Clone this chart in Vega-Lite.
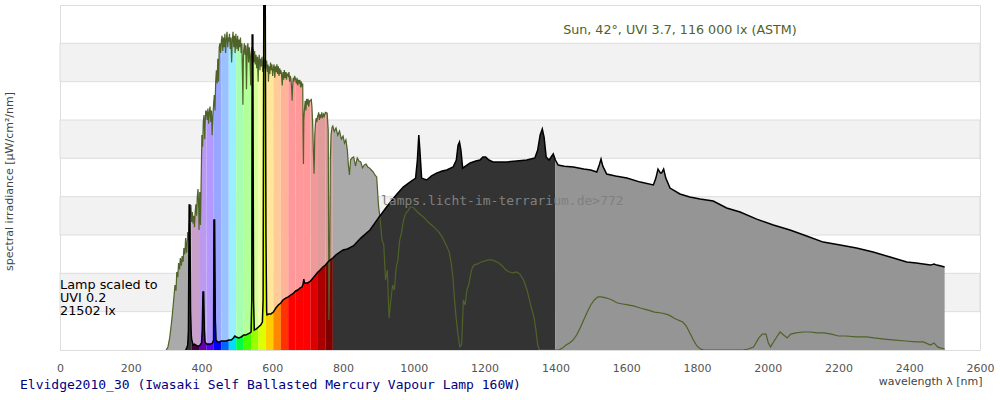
{
  "$schema": "https://vega.github.io/schema/vega-lite/v6.json",
  "width": 920,
  "height": 345,
  "autosize": {"type": "none"},
  "padding": {"left": 60, "top": 5, "right": 20, "bottom": 50},
  "background": "white",
  "config": {
    "view": {"stroke": "#dddddd"},
    "font": "DejaVu Sans",
    "axisX": {"tickCount": 13, "labelFlush": false, "ticks": false, "domain": false, "grid": false, "labelColor": "#555555", "labelFont": "DejaVu Sans", "labelFontSize": 11, "labelPadding": 12, "titleAnchor": "end", "titleAlign": "right", "titleBaseline": "middle", "titleX": 922, "titleY": 31, "titleColor": "#444444", "titleFont": "DejaVu Sans", "titleFontSize": 11, "titleFontWeight": "normal"},
    "axisY": {"labels": false, "ticks": false, "domain": false, "grid": false, "titleAngle": -90, "titleAlign": "center", "titleBaseline": "middle", "titleX": -51, "titleY": 176, "titleColor": "#444444", "titleFont": "DejaVu Sans", "titleFontSize": 11, "titleFontWeight": "normal"}
  },
  "title": {"text": "Elvidge2010_30 (Iwasaki Self Ballasted Mercury Vapour Lamp 160W)", "orient": "bottom", "anchor": "start", "frame": "group", "font": "DejaVu Sans Mono", "fontSize": 13, "fontWeight": "normal", "color": "#000080", "dx": -40, "offset": 0, "dy": -7},
  "datasets": {
    "stripes": [{"lo": 20, "hi": 40}, {"lo": 60, "hi": 80}, {"lo": 100, "hi": 120}, {"lo": 140, "hi": 160}],
    "sun": [
      {"w":300,"v":0,"b":"uv"},{"w":305,"v":1.6,"b":"uv"},{"w":310,"v":6.3,"b":"uv"},{"w":315,"v":14.1,"b":"uv"},{"w":320,"v":23.5,"b":"uv"},{"w":325,"v":33.9,"b":"uv"},{"w":328,"v":31,"b":"uv"},{"w":330,"v":40.7,"b":"uv"},{"w":333,"v":38,"b":"uv"},{"w":335,"v":45.4,"b":"uv"},{"w":338,"v":42,"b":"uv"},{"w":340,"v":48.0,"b":"uv"},{"w":343,"v":44,"b":"uv"},{"w":345,"v":49.0,"b":"uv"},{"w":348,"v":46,"b":"uv"},{"w":350,"v":53.2,"b":"uv"},{"w":353,"v":50,"b":"uv"},{"w":355,"v":58.4,"b":"uv"},{"w":358,"v":50.8,"b":"uv"},{"w":361,"v":61.6,"b":"uv"},{"w":363,"v":57,"b":"uv"},{"w":365,"v":65.2,"b":"uv"},{"w":368,"v":72.0,"b":"uv"},{"w":370,"v":75.6,"b":"uv"},{"w":372,"v":66.8,"b":"uv"},
      {"w":372,"v":66.8,"b":"b01"},{"w":374,"v":72,"b":"b01"},{"w":376,"v":66,"b":"b01"},{"w":378,"v":70,"b":"b01"},{"w":380,"v":64,"b":"b01"},{"w":382,"v":72,"b":"b01"},{"w":384,"v":76,"b":"b01"},{"w":386,"v":70,"b":"b01"},{"w":388,"v":80,"b":"b01"},{"w":390,"v":84,"b":"b01"},{"w":392,"v":74,"b":"b01"},{"w":393,"v":62.6,"b":"b01"},
      {"w":393,"v":62.6,"b":"b02"},{"w":395,"v":82.4,"b":"b02"},{"w":397,"v":65.2,"b":"b02"},{"w":399,"v":88.7,"b":"b02"},{"w":401,"v":112.2,"b":"b02"},{"w":403,"v":106,"b":"b02"},{"w":405,"v":119,"b":"b02"},{"w":407,"v":122.6,"b":"b02"},{"w":409,"v":110,"b":"b02"},{"w":410,"v":117.4,"b":"b02"},{"w":412,"v":125,"b":"b02"},{"w":414,"v":124.2,"b":"b02"},
      {"w":414,"v":124.2,"b":"b03"},{"w":416,"v":120,"b":"b03"},{"w":418,"v":126,"b":"b03"},{"w":420,"v":118,"b":"b03"},{"w":422,"v":124,"b":"b03"},{"w":424,"v":127,"b":"b03"},{"w":426,"v":119,"b":"b03"},{"w":428,"v":125,"b":"b03"},{"w":430,"v":112,"b":"b03"},{"w":432,"v":122,"b":"b03"},{"w":434,"v":128,"b":"b03"},
      {"w":434,"v":128,"b":"b04"},{"w":436,"v":133,"b":"b04"},{"w":438,"v":125,"b":"b04"},{"w":440,"v":140,"b":"b04"},{"w":442,"v":146,"b":"b04"},{"w":444,"v":139,"b":"b04"},{"w":446,"v":152,"b":"b04"},{"w":448,"v":140,"b":"b04"},{"w":450,"v":158,"b":"b04"},{"w":452,"v":160,"b":"b04"},{"w":454,"v":155,"b":"b04"},{"w":456,"v":161,"b":"b04"},
      {"w":456,"v":161,"b":"b05"},{"w":458,"v":164,"b":"b05"},{"w":460,"v":156,"b":"b05"},{"w":462,"v":163,"b":"b05"},{"w":464,"v":158,"b":"b05"},{"w":466,"v":165,"b":"b05"},{"w":468,"v":155,"b":"b05"},{"w":470,"v":162,"b":"b05"},{"w":472,"v":166,"b":"b05"},{"w":474,"v":158,"b":"b05"},{"w":476,"v":163,"b":"b05"},{"w":477,"v":161,"b":"b05"},
      {"w":477,"v":161,"b":"b06"},{"w":479,"v":165,"b":"b06"},{"w":481,"v":157,"b":"b06"},{"w":483,"v":163,"b":"b06"},{"w":485,"v":150,"b":"b06"},{"w":487,"v":162,"b":"b06"},{"w":489,"v":166,"b":"b06"},{"w":491,"v":158,"b":"b06"},{"w":493,"v":164,"b":"b06"},{"w":495,"v":155,"b":"b06"},{"w":497,"v":165,"b":"b06"},{"w":498,"v":162,"b":"b06"},
      {"w":498,"v":162,"b":"b07"},{"w":500,"v":157,"b":"b07"},{"w":502,"v":164,"b":"b07"},{"w":504,"v":156,"b":"b07"},{"w":506,"v":162,"b":"b07"},{"w":508,"v":158,"b":"b07"},{"w":510,"v":163,"b":"b07"},{"w":512,"v":155,"b":"b07"},{"w":514,"v":160,"b":"b07"},{"w":516,"v":140,"b":"b07"},{"w":517,"v":128,"b":"b07"},{"w":518,"v":150,"b":"b07"},{"w":519,"v":156,"b":"b07"},
      {"w":519,"v":156,"b":"b08"},{"w":521,"v":160,"b":"b08"},{"w":523,"v":154,"b":"b08"},{"w":525,"v":159,"b":"b08"},{"w":527,"v":136,"b":"b08"},{"w":529,"v":157,"b":"b08"},{"w":531,"v":160,"b":"b08"},{"w":533,"v":150,"b":"b08"},{"w":535,"v":158,"b":"b08"},{"w":537,"v":152,"b":"b08"},{"w":539,"v":138,"b":"b08"},{"w":540,"v":154,"b":"b08"},
      {"w":540,"v":154,"b":"b09"},{"w":542,"v":158,"b":"b09"},{"w":544,"v":151,"b":"b09"},{"w":546,"v":157,"b":"b09"},{"w":548,"v":150,"b":"b09"},{"w":550,"v":156,"b":"b09"},{"w":552,"v":149,"b":"b09"},{"w":554,"v":154,"b":"b09"},{"w":556,"v":147,"b":"b09"},{"w":558,"v":153,"b":"b09"},{"w":560,"v":140,"b":"b09"},{"w":561,"v":150,"b":"b09"},
      {"w":561,"v":150,"b":"b10"},{"w":563,"v":154,"b":"b10"},{"w":565,"v":146,"b":"b10"},{"w":567,"v":152,"b":"b10"},{"w":569,"v":148,"b":"b10"},{"w":571,"v":153,"b":"b10"},{"w":573,"v":145,"b":"b10"},{"w":575,"v":151,"b":"b10"},{"w":577,"v":147,"b":"b10"},{"w":579,"v":152,"b":"b10"},{"w":581,"v":146,"b":"b10"},{"w":582,"v":149,"b":"b10"},
      {"w":582,"v":149,"b":"b11"},{"w":584,"v":151,"b":"b11"},{"w":586,"v":145,"b":"b11"},{"w":588,"v":149,"b":"b11"},{"w":589,"v":140,"b":"b11"},{"w":591,"v":148,"b":"b11"},{"w":593,"v":144,"b":"b11"},{"w":595,"v":150,"b":"b11"},{"w":597,"v":146,"b":"b11"},{"w":599,"v":149,"b":"b11"},{"w":601,"v":143,"b":"b11"},{"w":603,"v":147,"b":"b11"},
      {"w":603,"v":147,"b":"b12"},{"w":605,"v":149,"b":"b12"},{"w":607,"v":142,"b":"b12"},{"w":609,"v":148,"b":"b12"},{"w":611,"v":145,"b":"b12"},{"w":613,"v":149,"b":"b12"},{"w":615,"v":144,"b":"b12"},{"w":617,"v":148,"b":"b12"},{"w":619,"v":143,"b":"b12"},{"w":621,"v":147,"b":"b12"},{"w":623,"v":144,"b":"b12"},{"w":624,"v":146,"b":"b12"},
      {"w":624,"v":146,"b":"b13"},{"w":626,"v":144,"b":"b13"},{"w":628,"v":138,"b":"b13"},{"w":630,"v":145,"b":"b13"},{"w":632,"v":141,"b":"b13"},{"w":634,"v":146,"b":"b13"},{"w":636,"v":142,"b":"b13"},{"w":638,"v":145,"b":"b13"},{"w":640,"v":141,"b":"b13"},{"w":642,"v":144,"b":"b13"},{"w":645,"v":143,"b":"b13"},
      {"w":645,"v":143,"b":"b14"},{"w":647,"v":145,"b":"b14"},{"w":649,"v":140,"b":"b14"},{"w":651,"v":143,"b":"b14"},{"w":653,"v":141,"b":"b14"},{"w":655,"v":135,"b":"b14"},{"w":656,"v":130,"b":"b14"},{"w":657,"v":136,"b":"b14"},{"w":659,"v":142,"b":"b14"},{"w":661,"v":140,"b":"b14"},{"w":663,"v":143,"b":"b14"},{"w":666,"v":141,"b":"b14"},
      {"w":666,"v":141,"b":"b15"},{"w":668,"v":139,"b":"b15"},{"w":670,"v":142,"b":"b15"},{"w":672,"v":138,"b":"b15"},{"w":674,"v":141,"b":"b15"},{"w":676,"v":139,"b":"b15"},{"w":678,"v":141,"b":"b15"},{"w":680,"v":137,"b":"b15"},{"w":682,"v":140,"b":"b15"},{"w":684,"v":138,"b":"b15"},{"w":686,"v":139,"b":"b15"},{"w":687,"v":113,"b":"b15"},
      {"w":687,"v":113,"b":"b16"},{"w":688,"v":97,"b":"b16"},{"w":689,"v":120,"b":"b16"},{"w":691,"v":126,"b":"b16"},{"w":693,"v":130,"b":"b16"},{"w":695,"v":125,"b":"b16"},{"w":697,"v":131,"b":"b16"},{"w":699,"v":128,"b":"b16"},{"w":701,"v":131,"b":"b16"},{"w":703,"v":127,"b":"b16"},{"w":705,"v":130,"b":"b16"},{"w":708,"v":130,"b":"b16"},
      {"w":708,"v":130,"b":"b17"},{"w":710,"v":131,"b":"b17"},{"w":712,"v":127,"b":"b17"},{"w":714,"v":118,"b":"b17"},{"w":716,"v":104,"b":"b17"},{"w":718,"v":92,"b":"b17"},{"w":719,"v":100,"b":"b17"},{"w":720,"v":112,"b":"b17"},{"w":722,"v":118,"b":"b17"},{"w":724,"v":121,"b":"b17"},{"w":726,"v":119,"b":"b17"},{"w":728,"v":122,"b":"b17"},{"w":729,"v":122,"b":"b17"},
      {"w":729,"v":122,"b":"b18"},{"w":731,"v":124,"b":"b18"},{"w":733,"v":120,"b":"b18"},{"w":735,"v":123,"b":"b18"},{"w":737,"v":121,"b":"b18"},{"w":740,"v":124,"b":"b18"},{"w":742,"v":121,"b":"b18"},{"w":745,"v":123,"b":"b18"},{"w":747,"v":122,"b":"b18"},{"w":750,"v":124,"b":"b18"},
      {"w":750,"v":124,"b":"b19"},{"w":755,"v":123.6,"b":"b19"},{"w":758,"v":114.8,"b":"b19"},{"w":760,"v":15.7,"b":"b19"},{"w":762,"v":41.7,"b":"b19"},{"w":764,"v":99.1,"b":"b19"},{"w":766,"v":112.2,"b":"b19"},{"w":769,"v":116.3,"b":"b19"},{"w":771,"v":116.9,"b":"b19"},
      {"w":771,"v":116.9,"b":"ir"},{"w":775,"v":114,"b":"ir"},{"w":780,"v":115.8,"b":"ir"},{"w":785,"v":112,"b":"ir"},{"w":790,"v":114.3,"b":"ir"},{"w":795,"v":110,"b":"ir"},{"w":800,"v":111.6,"b":"ir"},{"w":804,"v":108,"b":"ir"},{"w":808,"v":109.6,"b":"ir"},{"w":812,"v":104.3,"b":"ir"},{"w":815,"v":96.5,"b":"ir"},{"w":818,"v":91.3,"b":"ir"},{"w":821,"v":99.1,"b":"ir"},{"w":825,"v":100.2,"b":"ir"},{"w":830,"v":100.7,"b":"ir"},{"w":835,"v":96,"b":"ir"},{"w":840,"v":100.2,"b":"ir"},{"w":845,"v":98.6,"b":"ir"},{"w":850,"v":98.1,"b":"ir"},{"w":855,"v":95,"b":"ir"},{"w":860,"v":96.5,"b":"ir"},{"w":865,"v":97.0,"b":"ir"},{"w":870,"v":95.5,"b":"ir"},{"w":875,"v":94.9,"b":"ir"},{"w":880,"v":93.9,"b":"ir"},{"w":885,"v":92.9,"b":"ir"},{"w":890,"v":91.3,"b":"ir"},{"w":895,"v":90.3,"b":"ir"},{"w":900,"v":75.6,"b":"ir"},{"w":905,"v":67.8,"b":"ir"},{"w":910,"v":57.4,"b":"ir"},{"w":915,"v":54.8,"b":"ir"},{"w":920,"v":36.5,"b":"ir"},{"w":925,"v":41.7,"b":"ir"},{"w":930,"v":16.7,"b":"ir"},{"w":935,"v":26.1,"b":"ir"},{"w":940,"v":33.9,"b":"ir"},{"w":945,"v":31.3,"b":"ir"},{"w":950,"v":42.8,"b":"ir"},{"w":955,"v":47.0,"b":"ir"},{"w":960,"v":57.4,"b":"ir"},{"w":965,"v":61.0,"b":"ir"},{"w":970,"v":66.8,"b":"ir"},{"w":975,"v":70.4,"b":"ir"},{"w":980,"v":72.0,"b":"ir"},{"w":985,"v":73.0,"b":"ir"},{"w":990,"v":74.6,"b":"ir"},{"w":995,"v":74.6,"b":"ir"},{"w":1000,"v":74.1,"b":"ir"},{"w":1010,"v":72.0,"b":"ir"},{"w":1020,"v":70.4,"b":"ir"},{"w":1030,"v":68.9,"b":"ir"},{"w":1040,"v":66.8,"b":"ir"},{"w":1050,"v":65.2,"b":"ir"},{"w":1060,"v":63.6,"b":"ir"},{"w":1070,"v":61.6,"b":"ir"},{"w":1080,"v":59.0,"b":"ir"},{"w":1090,"v":55.3,"b":"ir"},{"w":1100,"v":51.1,"b":"ir"},{"w":1105,"v":45.9,"b":"ir"},{"w":1110,"v":39.1,"b":"ir"},{"w":1115,"v":26.1,"b":"ir"},{"w":1120,"v":15.7,"b":"ir"},{"w":1125,"v":7.8,"b":"ir"},{"w":1130,"v":1.6,"b":"ir"},{"w":1135,"v":2.6,"b":"ir"},{"w":1140,"v":26.1,"b":"ir"},{"w":1145,"v":23.5,"b":"ir"},{"w":1150,"v":31.3,"b":"ir"},{"w":1155,"v":33.9,"b":"ir"},{"w":1160,"v":39.1,"b":"ir"},{"w":1165,"v":42.8,"b":"ir"},{"w":1170,"v":44.3,"b":"ir"},{"w":1180,"v":44.9,"b":"ir"},{"w":1190,"v":45.9,"b":"ir"},{"w":1200,"v":46.4,"b":"ir"},{"w":1210,"v":47.0,"b":"ir"},{"w":1220,"v":47.0,"b":"ir"},{"w":1230,"v":46.4,"b":"ir"},{"w":1240,"v":45.4,"b":"ir"},{"w":1250,"v":43.8,"b":"ir"},{"w":1260,"v":41.7,"b":"ir"},{"w":1270,"v":40.7,"b":"ir"},{"w":1280,"v":40.2,"b":"ir"},{"w":1290,"v":40.7,"b":"ir"},{"w":1300,"v":39.6,"b":"ir"},{"w":1310,"v":36.5,"b":"ir"},{"w":1320,"v":31.3,"b":"ir"},{"w":1330,"v":23.5,"b":"ir"},{"w":1340,"v":16.7,"b":"ir"},{"w":1345,"v":10.4,"b":"ir"},{"w":1350,"v":2.6,"b":"ir"},{"w":1355,"v":0,"b":"ir"},{"w":1410,"v":0,"b":"ir"},{"w":1420,"v":1.0,"b":"ir"},{"w":1430,"v":2.6,"b":"ir"},{"w":1440,"v":3.7,"b":"ir"},{"w":1450,"v":5.2,"b":"ir"},{"w":1460,"v":7.8,"b":"ir"},{"w":1470,"v":11.5,"b":"ir"},{"w":1480,"v":15.7,"b":"ir"},{"w":1490,"v":19.8,"b":"ir"},{"w":1500,"v":23.5,"b":"ir"},{"w":1510,"v":26.1,"b":"ir"},{"w":1520,"v":27.7,"b":"ir"},{"w":1530,"v":27.7,"b":"ir"},{"w":1545,"v":27.1,"b":"ir"},{"w":1560,"v":26.1,"b":"ir"},{"w":1575,"v":24.5,"b":"ir"},{"w":1590,"v":24.0,"b":"ir"},{"w":1605,"v":23.5,"b":"ir"},{"w":1620,"v":23.0,"b":"ir"},{"w":1640,"v":21.9,"b":"ir"},{"w":1660,"v":20.9,"b":"ir"},{"w":1680,"v":19.8,"b":"ir"},{"w":1700,"v":19.3,"b":"ir"},{"w":1720,"v":18.3,"b":"ir"},{"w":1740,"v":16.2,"b":"ir"},{"w":1760,"v":14.6,"b":"ir"},{"w":1770,"v":12.5,"b":"ir"},{"w":1780,"v":8.9,"b":"ir"},{"w":1790,"v":5.2,"b":"ir"},{"w":1800,"v":2.1,"b":"ir"},{"w":1810,"v":0.5,"b":"ir"},{"w":1820,"v":0,"b":"ir"},{"w":1930,"v":0,"b":"ir"},{"w":1945,"v":0.5,"b":"ir"},{"w":1960,"v":1.6,"b":"ir"},{"w":1975,"v":6.3,"b":"ir"},{"w":1985,"v":8.3,"b":"ir"},{"w":1995,"v":8.3,"b":"ir"},{"w":2002,"v":3.7,"b":"ir"},{"w":2008,"v":1.6,"b":"ir"},{"w":2020,"v":5.2,"b":"ir"},{"w":2035,"v":9.4,"b":"ir"},{"w":2045,"v":7.8,"b":"ir"},{"w":2055,"v":6.3,"b":"ir"},{"w":2065,"v":8.3,"b":"ir"},{"w":2080,"v":8.9,"b":"ir"},{"w":2100,"v":9.4,"b":"ir"},{"w":2120,"v":9.4,"b":"ir"},{"w":2140,"v":8.9,"b":"ir"},{"w":2160,"v":8.9,"b":"ir"},{"w":2180,"v":8.3,"b":"ir"},{"w":2200,"v":7.3,"b":"ir"},{"w":2220,"v":7.3,"b":"ir"},{"w":2250,"v":6.8,"b":"ir"},{"w":2280,"v":6.8,"b":"ir"},{"w":2300,"v":6.3,"b":"ir"},{"w":2330,"v":5.7,"b":"ir"},{"w":2360,"v":5.2,"b":"ir"},{"w":2390,"v":4.7,"b":"ir"},{"w":2420,"v":4.2,"b":"ir"},{"w":2440,"v":4.2,"b":"ir"},{"w":2460,"v":2.6,"b":"ir"},{"w":2470,"v":3.7,"b":"ir"},{"w":2480,"v":1.6,"b":"ir"},{"w":2490,"v":1.0,"b":"ir"},{"w":2500,"v":0.5,"b":"ir"}
    ],
    "lamp": [
      {"w":355,"v":0,"b":"uv"},{"w":358,"v":1.0,"b":"uv"},{"w":361,"v":2.6,"b":"uv"},{"w":363,"v":10.4,"b":"uv"},{"w":365,"v":75.6,"b":"uv"},{"w":367,"v":75.6,"b":"uv"},{"w":369,"v":20.9,"b":"uv"},{"w":371,"v":7.8,"b":"uv"},{"w":372,"v":5.7,"b":"uv"},
      {"w":372,"v":5.7,"b":"b01"},{"w":376,"v":2.6,"b":"b01"},{"w":380,"v":3.1,"b":"b01"},{"w":384,"v":2.6,"b":"b01"},{"w":388,"v":2.1,"b":"b01"},{"w":393,"v":2.1,"b":"b01"},
      {"w":393,"v":2.1,"b":"b02"},{"w":396,"v":2.6,"b":"b02"},{"w":400,"v":3.7,"b":"b02"},{"w":402,"v":10.4,"b":"b02"},{"w":404,"v":30.3,"b":"b02"},{"w":406,"v":30.3,"b":"b02"},{"w":408,"v":10.4,"b":"b02"},{"w":410,"v":4.2,"b":"b02"},{"w":414,"v":3.1,"b":"b02"},
      {"w":414,"v":3.1,"b":"b03"},{"w":420,"v":3.1,"b":"b03"},{"w":426,"v":3.1,"b":"b03"},{"w":431,"v":3.7,"b":"b03"},{"w":434,"v":5.2,"b":"b03"},
      {"w":434,"v":5.2,"b":"b04"},{"w":435,"v":67.8,"b":"b04"},{"w":437,"v":67.8,"b":"b04"},{"w":439,"v":15.7,"b":"b04"},{"w":441,"v":5.2,"b":"b04"},{"w":445,"v":4.2,"b":"b04"},{"w":450,"v":4.2,"b":"b04"},{"w":456,"v":4.7,"b":"b04"},
      {"w":456,"v":4.7,"b":"b05"},{"w":465,"v":4.7,"b":"b05"},{"w":470,"v":4.7,"b":"b05"},{"w":477,"v":5.2,"b":"b05"},
      {"w":477,"v":5.2,"b":"b06"},{"w":484,"v":5.2,"b":"b06"},{"w":490,"v":6.3,"b":"b06"},{"w":494,"v":7.3,"b":"b06"},{"w":498,"v":6.8,"b":"b06"},
      {"w":498,"v":6.8,"b":"b07"},{"w":505,"v":6.3,"b":"b07"},{"w":512,"v":6.8,"b":"b07"},{"w":519,"v":7.8,"b":"b07"},
      {"w":519,"v":7.8,"b":"b08"},{"w":525,"v":7.8,"b":"b08"},{"w":530,"v":8.3,"b":"b08"},{"w":537,"v":8.9,"b":"b08"},{"w":540,"v":9.4,"b":"b08"},
      {"w":540,"v":9.4,"b":"b09"},{"w":542,"v":26.1,"b":"b09"},{"w":543,"v":164.3,"b":"b09"},{"w":545,"v":164.3,"b":"b09"},{"w":547,"v":26.1,"b":"b09"},{"w":549,"v":10.4,"b":"b09"},{"w":555,"v":11.0,"b":"b09"},{"w":561,"v":12.0,"b":"b09"},
      {"w":561,"v":12.0,"b":"b10"},{"w":567,"v":13.0,"b":"b10"},{"w":572,"v":14.6,"b":"b10"},{"w":574,"v":26.1,"b":"b10"},{"w":576,"v":185.2,"b":"b10"},{"w":580,"v":185.2,"b":"b10"},{"w":582,"v":60.0,"b":"b10"},
      {"w":582,"v":60.0,"b":"b11"},{"w":584,"v":19.8,"b":"b11"},{"w":585,"v":18.3,"b":"b11"},{"w":590,"v":18.8,"b":"b11"},{"w":596,"v":18.8,"b":"b11"},{"w":603,"v":19.8,"b":"b11"},
      {"w":603,"v":19.8,"b":"b12"},{"w":610,"v":21.9,"b":"b12"},{"w":617,"v":23.5,"b":"b12"},{"w":624,"v":24.5,"b":"b12"},
      {"w":624,"v":24.5,"b":"b13"},{"w":630,"v":26.1,"b":"b13"},{"w":638,"v":27.1,"b":"b13"},{"w":645,"v":27.7,"b":"b13"},
      {"w":645,"v":27.7,"b":"b14"},{"w":652,"v":28.7,"b":"b14"},{"w":660,"v":29.7,"b":"b14"},{"w":666,"v":30.8,"b":"b14"},
      {"w":666,"v":30.8,"b":"b15"},{"w":672,"v":31.3,"b":"b15"},{"w":678,"v":32.3,"b":"b15"},{"w":684,"v":32.9,"b":"b15"},{"w":687,"v":34.4,"b":"b15"},
      {"w":687,"v":34.4,"b":"b16"},{"w":689,"v":37.0,"b":"b16"},{"w":691,"v":35.0,"b":"b16"},{"w":700,"v":35.0,"b":"b16"},{"w":708,"v":36.0,"b":"b16"},
      {"w":708,"v":36.0,"b":"b17"},{"w":715,"v":37.6,"b":"b17"},{"w":722,"v":39.1,"b":"b17"},{"w":729,"v":40.7,"b":"b17"},
      {"w":729,"v":40.7,"b":"b18"},{"w":735,"v":41.7,"b":"b18"},{"w":743,"v":43.3,"b":"b18"},{"w":750,"v":44.3,"b":"b18"},
      {"w":750,"v":44.3,"b":"b19"},{"w":757,"v":45.9,"b":"b19"},{"w":764,"v":47.0,"b":"b19"},{"w":771,"v":48.0,"b":"b19"},
      {"w":771,"v":48.0,"b":"ir"},{"w":780,"v":49.6,"b":"ir"},{"w":791,"v":51.1,"b":"ir"},{"w":800,"v":52.2,"b":"ir"},{"w":812,"v":52.7,"b":"ir"},{"w":829,"v":54.3,"b":"ir"},{"w":850,"v":58.4,"b":"ir"},{"w":876,"v":62.6,"b":"ir"},{"w":900,"v":68.9,"b":"ir"},{"w":923,"v":74.6,"b":"ir"},{"w":950,"v":80.9,"b":"ir"},{"w":970,"v":85.0,"b":"ir"},{"w":985,"v":87.1,"b":"ir"},{"w":998,"v":88.7,"b":"ir"},{"w":1005,"v":89.7,"b":"ir"},{"w":1010,"v":99.1,"b":"ir"},{"w":1014,"v":112.2,"b":"ir"},{"w":1017,"v":104.3,"b":"ir"},{"w":1022,"v":89.7,"b":"ir"},{"w":1036,"v":88.7,"b":"ir"},{"w":1050,"v":90.8,"b":"ir"},{"w":1064,"v":92.3,"b":"ir"},{"w":1080,"v":93.4,"b":"ir"},{"w":1093,"v":93.9,"b":"ir"},{"w":1111,"v":95.5,"b":"ir"},{"w":1120,"v":99.1,"b":"ir"},{"w":1125,"v":106.9,"b":"ir"},{"w":1129,"v":108.5,"b":"ir"},{"w":1133,"v":104.3,"b":"ir"},{"w":1138,"v":94.9,"b":"ir"},{"w":1150,"v":96.5,"b":"ir"},{"w":1159,"v":97.6,"b":"ir"},{"w":1175,"v":98.6,"b":"ir"},{"w":1187,"v":99.1,"b":"ir"},{"w":1195,"v":100.7,"b":"ir"},{"w":1203,"v":100.7,"b":"ir"},{"w":1212,"v":99.1,"b":"ir"},{"w":1224,"v":98.1,"b":"ir"},{"w":1240,"v":98.1,"b":"ir"},{"w":1262,"v":98.1,"b":"ir"},{"w":1290,"v":98.6,"b":"ir"},{"w":1319,"v":99.1,"b":"ir"},{"w":1342,"v":100.2,"b":"ir"},{"w":1350,"v":104.3,"b":"ir"},{"w":1357,"v":112.2,"b":"ir"},{"w":1363,"v":115.3,"b":"ir"},{"w":1368,"v":111.1,"b":"ir"},{"w":1374,"v":100.7,"b":"ir"},{"w":1382,"v":99.1,"b":"ir"},{"w":1390,"v":101.2,"b":"ir"},{"w":1394,"v":102.3,"b":"ir"},{"w":1400,"v":99.1,"b":"ir"},
      {"w":1400,"v":99.1,"b":"ir2"},{"w":1408,"v":96.5,"b":"ir2"},{"w":1425,"v":95.9,"b":"ir2"},{"w":1451,"v":95.5,"b":"ir2"},{"w":1480,"v":94.4,"b":"ir2"},{"w":1500,"v":93.9,"b":"ir2"},{"w":1517,"v":92.9,"b":"ir2"},{"w":1524,"v":96.5,"b":"ir2"},{"w":1529,"v":99.6,"b":"ir2"},{"w":1534,"v":95.9,"b":"ir2"},{"w":1545,"v":91.8,"b":"ir2"},{"w":1570,"v":90.8,"b":"ir2"},{"w":1602,"v":89.7,"b":"ir2"},{"w":1640,"v":87.6,"b":"ir2"},{"w":1677,"v":86.1,"b":"ir2"},{"w":1684,"v":89.7,"b":"ir2"},{"w":1690,"v":94.4,"b":"ir2"},{"w":1697,"v":92.3,"b":"ir2"},{"w":1700,"v":92.3,"b":"ir2"},{"w":1706,"v":94.4,"b":"ir2"},{"w":1712,"v":89.7,"b":"ir2"},{"w":1724,"v":84.5,"b":"ir2"},{"w":1752,"v":81.4,"b":"ir2"},{"w":1780,"v":79.8,"b":"ir2"},{"w":1809,"v":78.8,"b":"ir2"},{"w":1846,"v":77.7,"b":"ir2"},{"w":1884,"v":74.1,"b":"ir2"},{"w":1922,"v":72.0,"b":"ir2"},{"w":1969,"v":68.3,"b":"ir2"},{"w":2016,"v":65.2,"b":"ir2"},{"w":2063,"v":62.6,"b":"ir2"},{"w":2110,"v":59.5,"b":"ir2"},{"w":2157,"v":56.3,"b":"ir2"},{"w":2205,"v":54.8,"b":"ir2"},{"w":2251,"v":53.2,"b":"ir2"},{"w":2298,"v":51.1,"b":"ir2"},{"w":2346,"v":48.5,"b":"ir2"},{"w":2393,"v":45.9,"b":"ir2"},{"w":2420,"v":45.4,"b":"ir2"},{"w":2440,"v":44.9,"b":"ir2"},{"w":2460,"v":44.3,"b":"ir2"},{"w":2470,"v":44.9,"b":"ir2"},{"w":2478,"v":44.3,"b":"ir2"},{"w":2490,"v":43.8,"b":"ir2"},{"w":2500,"v":43.3,"b":"ir2"}
    ]
  },
  "layer": [
    {
      "data": {"name": "stripes"},
      "mark": {"type": "rect", "fill": "#f2f2f2", "stroke": "#dddddd", "strokeWidth": 1},
      "encoding": {
        "x": {"datum": 0, "type": "quantitative", "scale": {"domain": [0, 2600], "nice": false}, "title": "wavelength λ [nm]", "axis": {"format": "d"}},
        "x2": {"datum": 2600},
        "y": {"field": "lo", "type": "quantitative", "scale": {"domain": [0, 180], "nice": false}, "title": "spectral irradiance [µW/cm²/nm]"},
        "y2": {"field": "hi"}
      }
    },
    {
      "data": {"name": "sun"},
      "mark": {"type": "area", "clip": true},
      "encoding": {
        "x": {"field": "w", "type": "quantitative", "title": "wavelength λ [nm]", "axis": {"format": "d"}},
        "y": {"field": "v", "type": "quantitative", "stack": null, "title": "spectral irradiance [µW/cm²/nm]"},
        "color": {"field": "b", "type": "nominal", "legend": null,
          "scale": {"domain": ["uv","b01","b02","b03","b04","b05","b06","b07","b08","b09","b10","b11","b12","b13","b14","b15","b16","b17","b18","b19","ir"],
            "range": ["#aaaaaa","#c9a0c9","#bb99ee","#b399ff","#99a6ff","#99c2ff","#99eeff","#a6ffb0","#b3ff99","#d6ff99","#f5ff99","#ffe699","#ffcc99","#ffb399","#ff9999","#ff9999","#ff9999","#f09999","#e09b9b","#d49a9a","#aaaaaa"]}}
      }
    },
    {
      "data": {"name": "lamp"},
      "mark": {"type": "area", "clip": true},
      "encoding": {
        "x": {"field": "w", "type": "quantitative", "title": "wavelength λ [nm]", "axis": {"format": "d"}},
        "y": {"field": "v", "type": "quantitative", "stack": null, "title": "spectral irradiance [µW/cm²/nm]"},
        "color": {"field": "b", "type": "nominal", "legend": null,
          "scale": {"domain": ["uv","b01","b02","b03","b04","b05","b06","b07","b08","b09","b10","b11","b12","b13","b14","b15","b16","b17","b18","b19","ir","ir2"],
            "range": ["#333333","#400040","#6600aa","#5500ff","#0000ff","#0066ff","#00ddff","#00ff44","#44ff00","#99ff00","#ddff00","#ffcc00","#ff8800","#ff3300","#ff0000","#ff0000","#ff0000","#dd0000","#aa0000","#800000","#333333","#959595"]}}
      }
    },
    {
      "data": {"name": "sun"},
      "mark": {"type": "line", "clip": true, "color": "#4f6228", "strokeWidth": 1.2},
      "encoding": {
        "x": {"field": "w", "type": "quantitative", "title": "wavelength λ [nm]", "axis": {"format": "d"}},
        "y": {"field": "v", "type": "quantitative", "title": "spectral irradiance [µW/cm²/nm]"}
      }
    },
    {
      "data": {"name": "lamp"},
      "mark": {"type": "line", "clip": true, "color": "#000000", "strokeWidth": 1.5},
      "encoding": {
        "x": {"field": "w", "type": "quantitative", "title": "wavelength λ [nm]", "axis": {"format": "d"}},
        "y": {"field": "v", "type": "quantitative", "title": "spectral irradiance [µW/cm²/nm]"}
      }
    },
    {
      "data": {"values": [{}]},
      "mark": {"type": "text", "align": "center", "baseline": "middle", "font": "DejaVu Sans", "fontSize": 12.7, "color": "#4f6228"},
      "encoding": {
        "x": {"datum": 1752, "type": "quantitative", "title": "wavelength λ [nm]", "axis": {"format": "d"}},
        "y": {"datum": 167, "type": "quantitative", "title": "spectral irradiance [µW/cm²/nm]"},
        "text": {"value": "Sun, 42°, UVI 3.7, 116 000 lx (ASTM)"}
      }
    },
    {
      "data": {"values": [{}]},
      "mark": {"type": "text", "align": "left", "baseline": "top", "font": "DejaVu Sans", "fontSize": 12.8, "lineHeight": 13, "color": "#000000"},
      "encoding": {
        "x": {"datum": 0, "type": "quantitative", "title": "wavelength λ [nm]", "axis": {"format": "d"}},
        "y": {"datum": 37, "type": "quantitative", "title": "spectral irradiance [µW/cm²/nm]"},
        "text": {"value": ["Lamp scaled to", "UVI 0.2", "21502 lx"]}
      }
    },
    {
      "data": {"values": [{}]},
      "mark": {"type": "text", "align": "center", "baseline": "middle", "font": "DejaVu Sans Mono", "fontSize": 13, "color": "#808080"},
      "encoding": {
        "x": {"datum": 1250, "type": "quantitative", "title": "wavelength λ [nm]", "axis": {"format": "d"}},
        "y": {"datum": 77.7, "type": "quantitative", "title": "spectral irradiance [µW/cm²/nm]"},
        "text": {"value": "lamps.licht-im-terrarium.de>772"}
      }
    }
  ],
  "resolve": {"scale": {"color": "independent"}}
}
